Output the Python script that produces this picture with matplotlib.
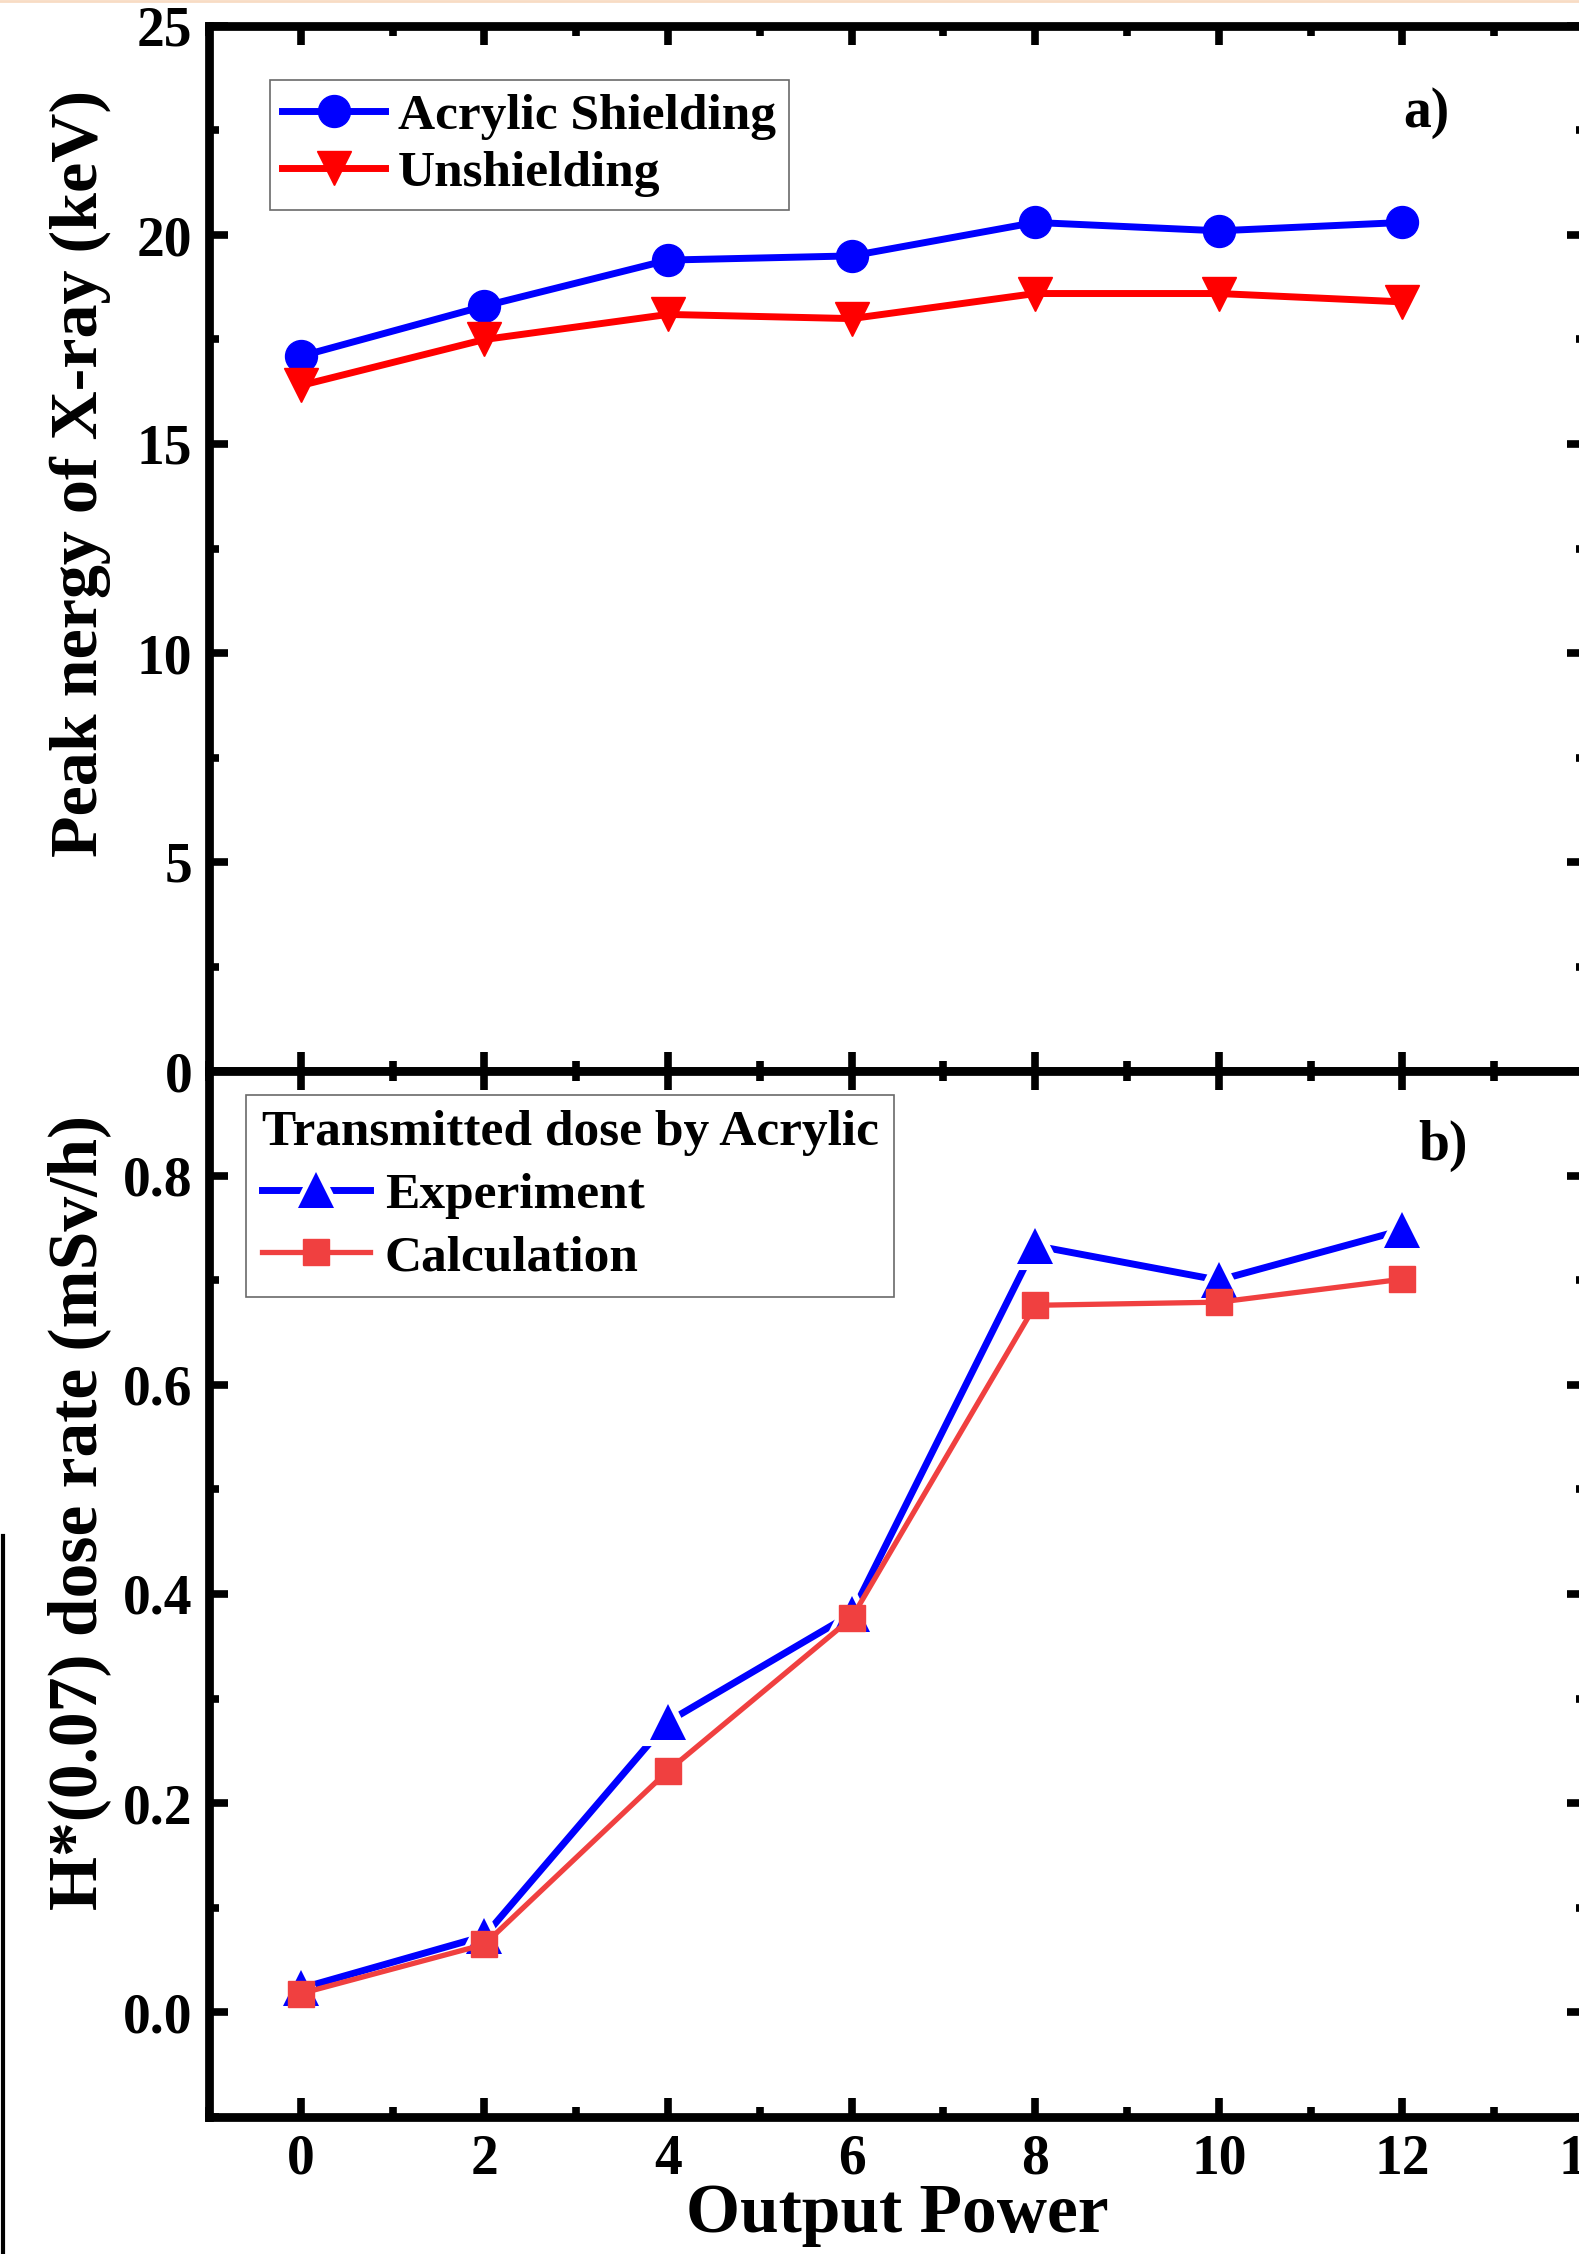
import numpy as np
import matplotlib
matplotlib.use("Agg")
import matplotlib.pyplot as plt
from matplotlib.lines import Line2D
from matplotlib.ticker import MultipleLocator, FormatStrFormatter

plt.rcParams["font.family"] = ["Liberation Serif", "DejaVu Serif"]
plt.rcParams["font.weight"] = "bold"

# data
power = [0, 2, 4, 6, 8, 10, 12]
acrylic_peak = [17.1, 18.3, 19.4, 19.5, 20.3, 20.1, 20.3]
unshield_peak = [16.4, 17.5, 18.1, 18.0, 18.6, 18.6, 18.4]
dose_exp = [0.023, 0.073, 0.278, 0.381, 0.733, 0.700, 0.748]
dose_calc = [0.018, 0.065, 0.231, 0.377, 0.676, 0.679, 0.701]

W, H = 1579, 2254
fig = plt.figure(figsize=(W / 100, H / 100), dpi=100)

left = 209 / W
right = 1586 / W
y_top = 1 - 26 / H
y_mid = 1 - 1071 / H
y_bot = 1 - 2117 / H

ax1 = fig.add_axes([left, y_mid, right - left, y_top - y_mid])
ax2 = fig.add_axes([left, y_bot, right - left, y_mid - y_bot])


def style(ax):
    for sp in ax.spines.values():
        sp.set_linewidth(6.3)
    ax.tick_params(which="both", direction="in", top=True, right=True,
                   width=5.5, labelsize=40, pad=12)
    ax.tick_params(which="major", length=14)
    ax.tick_params(which="minor", length=7)
    ax.xaxis.set_major_locator(MultipleLocator(2))
    ax.xaxis.set_minor_locator(MultipleLocator(1))
    ax.set_xlim(-1, 14)


# panel a
style(ax1)
ax1.plot(power, acrylic_peak, "-o", color="#0000ff", lw=5, ms=23,
         label="Acrylic Shielding")
ax1.plot(power, unshield_peak, "-v", color="#ff0000", lw=5, ms=25,
         label="Unshielding")
ax1.set_ylim(0, 25)
ax1.yaxis.set_major_locator(MultipleLocator(5))
ax1.yaxis.set_minor_locator(MultipleLocator(2.5))
ax1.tick_params(axis="x", labelbottom=False)
ax1.set_ylabel("Peak nergy of X-ray (keV)", fontsize=49, fontweight="bold")
ax1.yaxis.set_label_coords(-0.071, 0.572)
ax1.text(0.884, 0.917, "a)", transform=ax1.transAxes, fontsize=40,
         fontweight="bold", ha="center", va="center")
leg1 = ax1.legend(loc="upper left", bbox_to_anchor=(0.044, 0.948),
                  fontsize=37, frameon=True, fancybox=False, edgecolor="#444444",
                  handlelength=2.0, handletextpad=0.25, borderpad=0.25,
                  labelspacing=0.2, borderaxespad=0)
leg1.get_frame().set_linewidth(1.2)

# panel b
style(ax2)
ax2.plot(power, dose_exp, "-^", color="#0000ff", lw=5, ms=26,
         mec="white", mew=8, label="Experiment")
ax2.plot(power, dose_exp, "^", color="#0000ff", ms=26, mew=0)
ax2.plot(power, dose_calc, "-s", color="#f04040", lw=3.8, ms=19,
         label="Calculation")
ax2.set_ylim(-0.1, 0.9)
ax2.yaxis.set_major_locator(MultipleLocator(0.2))
ax2.yaxis.set_minor_locator(MultipleLocator(0.1))
ax2.yaxis.set_major_formatter(FormatStrFormatter("%.1f"))
ax2.set_ylabel("H*(0.07) dose rate (mSv/h)", fontsize=50, fontweight="bold")
ax2.yaxis.set_label_coords(-0.071, 0.578)
ax2.set_xlabel("Output Power", fontsize=50, fontweight="bold", labelpad=-2)
ax2.text(0.896, 0.928, "b)", transform=ax2.transAxes, fontsize=40,
         fontweight="bold", ha="center", va="center")

h_exp = (Line2D([], [], color="#0000ff", lw=5, marker="^", ms=26,
                mfc="#0000ff", mec="white", mew=8),
         Line2D([], [], ls="none", marker="^", ms=26, color="#0000ff", mew=0))
h_calc = Line2D([], [], color="#f04040", lw=3.8, marker="s", ms=19)
leg2 = ax2.legend([h_exp, h_calc], ["Experiment", "Calculation"],
                  title="Transmitted dose by Acrylic",
                  title_fontproperties={"size": 37, "weight": "bold"},
                  loc="upper left", bbox_to_anchor=(0.027, 0.977),
                  fontsize=37, frameon=True, fancybox=False, edgecolor="#444444",
                  handlelength=2.1, handletextpad=0.3, borderpad=0.3,
                  labelspacing=0.3, borderaxespad=0)
leg2._legend_box.align = "left"
leg2.get_frame().set_linewidth(1.2)

# scan artefacts at the image edges
fig.add_artist(Line2D([3 / W, 3 / W], [0, 1 - 1536 / H], color="black", lw=3,
                      transform=fig.transFigure))
fig.add_artist(Line2D([0, 1], [1 - 1 / H, 1 - 1 / H], color="#f8dcc4", lw=2,
                      transform=fig.transFigure))

fig.savefig("out.png", dpi=100)
